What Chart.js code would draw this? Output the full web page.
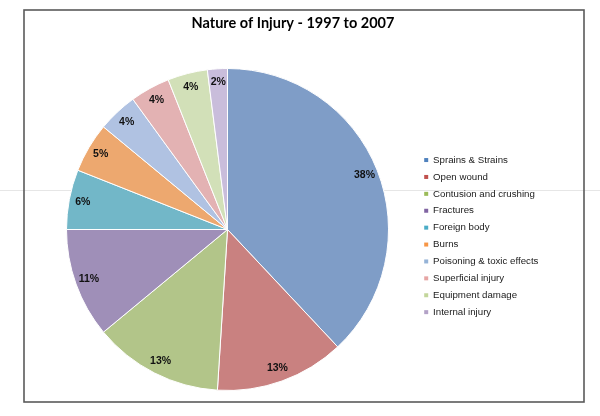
<!DOCTYPE html>
<html>
<head>
<meta charset="utf-8">
<title>Nature of Injury - 1997 to 2007</title>
<script src="https://cdn.jsdelivr.net/npm/chart.js@4.4.1/dist/chart.umd.min.js"></script>
<style>
    html, body { margin: 0; padding: 0; background: #ffffff; }
    #chart { display: block; }
</style>
</head>
<body>
<canvas id="chart" width="600" height="416"></canvas>
<script>
// chart data
const categories = [
    'Sprains & Strains',
    'Open wound',
    'Contusion and crushing',
    'Fractures',
    'Foreign body',
    'Burns',
    'Poisoning & toxic effects',
    'Superficial injury',
    'Equipment damage',
    'Internal injury'
];
const shares = [38, 13, 13, 11, 6, 5, 4, 4, 4, 2];

// slice fills (muted, as in the picture) and legend key colours
const sliceColors = ['#7f9dc7', '#c98180', '#b2c589', '#9f8fb8', '#72b7c8',
                     '#eda86f', '#b0c2e2', '#e3b2b3', '#d2e0b8', '#c9bddb'];
const keyColors = ['#4f81bd', '#c0504d', '#9bbb59', '#8064a2', '#4bacc6',
                   '#f79646', '#95b3d7', '#e6a5a4', '#c3d69b', '#b3a2c7'];

// white background, outer frame and the faint scan line
const framePlugin = {
    id: 'frame',
    beforeDraw(chart) {
        const ctx = chart.ctx;
        ctx.save();
        ctx.fillStyle = '#ffffff';
        ctx.fillRect(0, 0, chart.width, chart.height);
        ctx.strokeStyle = '#e6e6e6';
        ctx.lineWidth = 1;
        ctx.beginPath();
        ctx.moveTo(0, 190.5);
        ctx.lineTo(chart.width, 190.5);
        ctx.stroke();
        ctx.strokeStyle = '#5a5a5a';
        ctx.lineWidth = 1.6;
        ctx.strokeRect(24, 10, 560, 392);
        ctx.restore();
    }
};

// percentage labels near the outer edge of each slice
const percentLabels = {
    id: 'percentLabels',
    afterDatasetsDraw(chart) {
        const ctx = chart.ctx;
        const meta = chart.getDatasetMeta(0);
        ctx.save();
        ctx.font = 'bold 10.5px "Liberation Sans", Arial, sans-serif';
        ctx.fillStyle = '#111111';
        ctx.textAlign = 'center';
        ctx.textBaseline = 'middle';
        meta.data.forEach((arc, i) => {
            const p = arc.getProps(['x', 'y', 'startAngle', 'endAngle', 'outerRadius'], true);
            const mid = (p.startAngle + p.endAngle) / 2;
            const r = p.outerRadius * 0.915;
            ctx.fillText(shares[i] + '%', p.x + Math.cos(mid) * r, p.y + Math.sin(mid) * r);
        });
        ctx.restore();
    }
};

// fixed legend width and position, title centred on the frame
const layoutTweaks = {
    id: 'layoutTweaks',
    beforeInit(chart) {
        const fit = chart.legend.fit;
        chart.legend.fit = function () {
            fit.bind(chart.legend)();
            this.width = 183;
        };
    },
    afterLayout(chart) {
        const lg = chart.legend;
        const h = lg.bottom - lg.top;
        lg.top = 148;
        lg.bottom = lg.top + h;
        const tb = chart.titleBlock;
        const w = tb.right - tb.left;
        tb.left = 293 - w / 2;
        tb.right = tb.left + w;
    }
};

new Chart(document.getElementById('chart'), {
    type: 'pie',
    data: {
        labels: categories,
        datasets: [{
            data: shares,
            backgroundColor: sliceColors,
            borderColor: '#ffffff',
            borderWidth: 1
        }]
    },
    options: {
        responsive: false,
        animation: false,
        radius: 161,
        layout: {
            padding: { top: 0, left: 38, right: 0, bottom: 14 }
        },
        plugins: {
            title: {
                display: true,
                text: 'Nature of Injury - 1997 to 2007',
                color: '#000000',
                font: { family: 'Lato', size: 14.5, weight: 'bold' },
                padding: { top: 14.3, bottom: 25.3 }
            },
            legend: {
                position: 'right',
                align: 'start',
                labels: {
                    boxWidth: 4,
                    boxHeight: 4,
                    padding: 7.2,
                    color: '#1a1a1a',
                    font: { family: 'Liberation Sans', size: 9.7 },
                    generateLabels(chart) {
                        const items = Chart.overrides.pie.plugins.legend.labels.generateLabels(chart);
                        items.forEach((item, i) => {
                            item.fillStyle = keyColors[i];
                            item.strokeStyle = keyColors[i];
                            item.lineWidth = 0;
                        });
                        return items;
                    }
                }
            },
            tooltip: { enabled: false }
        }
    },
    plugins: [framePlugin, percentLabels, layoutTweaks]
});
</script>
</body>
</html>
